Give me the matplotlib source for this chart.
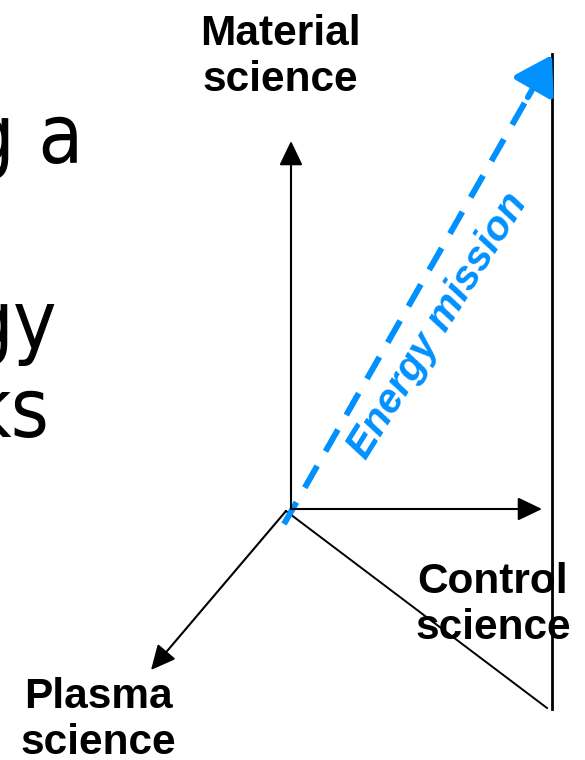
import matplotlib
matplotlib.use('Agg')
import matplotlib.pyplot as plt
from matplotlib import font_manager

# pixel coordinates of the reference picture (y grows downward)
axis_names = ['Material\nscience', 'Control\nscience', 'Plasma\nscience']
axis_starts = [(291, 509), (291, 509), (286, 511)]
axis_tips = [(291, 141), (542, 509), (151, 670)]
label_pos = [(280, 14), (493, 562), (98, 677)]
frame_x = [552, 552]
frame_y = [54, 709]
slant_x = [286, 547]
slant_y = [511, 708]
mission_start = (284, 524)
mission_tip = (552, 55)
mission_text = 'Energy mission'
left_lines = ['g a', 'gy', 'ks']
left_right_edges = [83, 57, 49]
left_baselines = [163, 349, 437]

blue = '#0091ff'

# narrow face for the cut-off slide text, if one is installed
narrow, stretch, size = 'Liberation Sans', 'normal', 50
for f in font_manager.fontManager.ttflist:
    if 'Narrow' in f.name or 'Condensed' in f.name or f.stretch in ('condensed', 'semi-condensed'):
        if f.weight in (400, 'normal', 'regular') and f.style == 'normal':
            narrow, stretch, size = f.name, f.stretch, 59
            break

fig = plt.figure(figsize=(5.85, 7.6), dpi=100)
ax = fig.add_axes([0, 0, 1, 1])
ax.set_xlim(0, 585)
ax.set_ylim(760, 0)
ax.axis('off')

for txt, xr, yb in zip(left_lines, left_right_edges, left_baselines):
    ax.text(xr, yb, txt, ha='right', va='baseline', fontsize=size,
            family=[narrow, 'DejaVu Sans'], stretch=stretch, color='black')

# the three axes
for s, t in zip(axis_starts, axis_tips):
    ax.annotate('', xy=t, xytext=s,
                arrowprops=dict(arrowstyle='-|>,head_length=0.75,head_width=0.36',
                                mutation_scale=20, color='black', lw=1.5,
                                shrinkA=0, shrinkB=0))

for name, (x, y) in zip(axis_names, label_pos):
    ax.text(x, y, name, ha='center', va='top', fontsize=30.5, fontweight='bold',
            family='Liberation Sans', linespacing=1.2)

# projection lines
ax.plot(frame_x, frame_y, color='black', lw=2)
ax.plot(slant_x, slant_y, color='black', lw=1.4)

# energy mission dashed arrow
fx = mission_tip[0] - 0.09 * (mission_tip[0] - mission_start[0])
fy = mission_tip[1] - 0.09 * (mission_tip[1] - mission_start[1])
ax.plot([mission_start[0], fx], [mission_start[1], fy], color=blue, lw=4.3,
        linestyle=(0, (4.2, 2.8)), solid_capstyle='butt', dash_capstyle='butt')
ax.annotate('', xy=mission_tip, xytext=(fx, fy),
            arrowprops=dict(arrowstyle='-|>,head_length=0.8,head_width=0.5',
                            mutation_scale=28, color=blue, lw=4.3,
                            shrinkA=0, shrinkB=0))
ax.text(438, 326, mission_text, rotation=58, rotation_mode='anchor',
        ha='center', va='center', fontsize=29.5, fontweight='bold', style='italic',
        color=blue, family='Liberation Sans')

fig.savefig('out.png', dpi=100)
